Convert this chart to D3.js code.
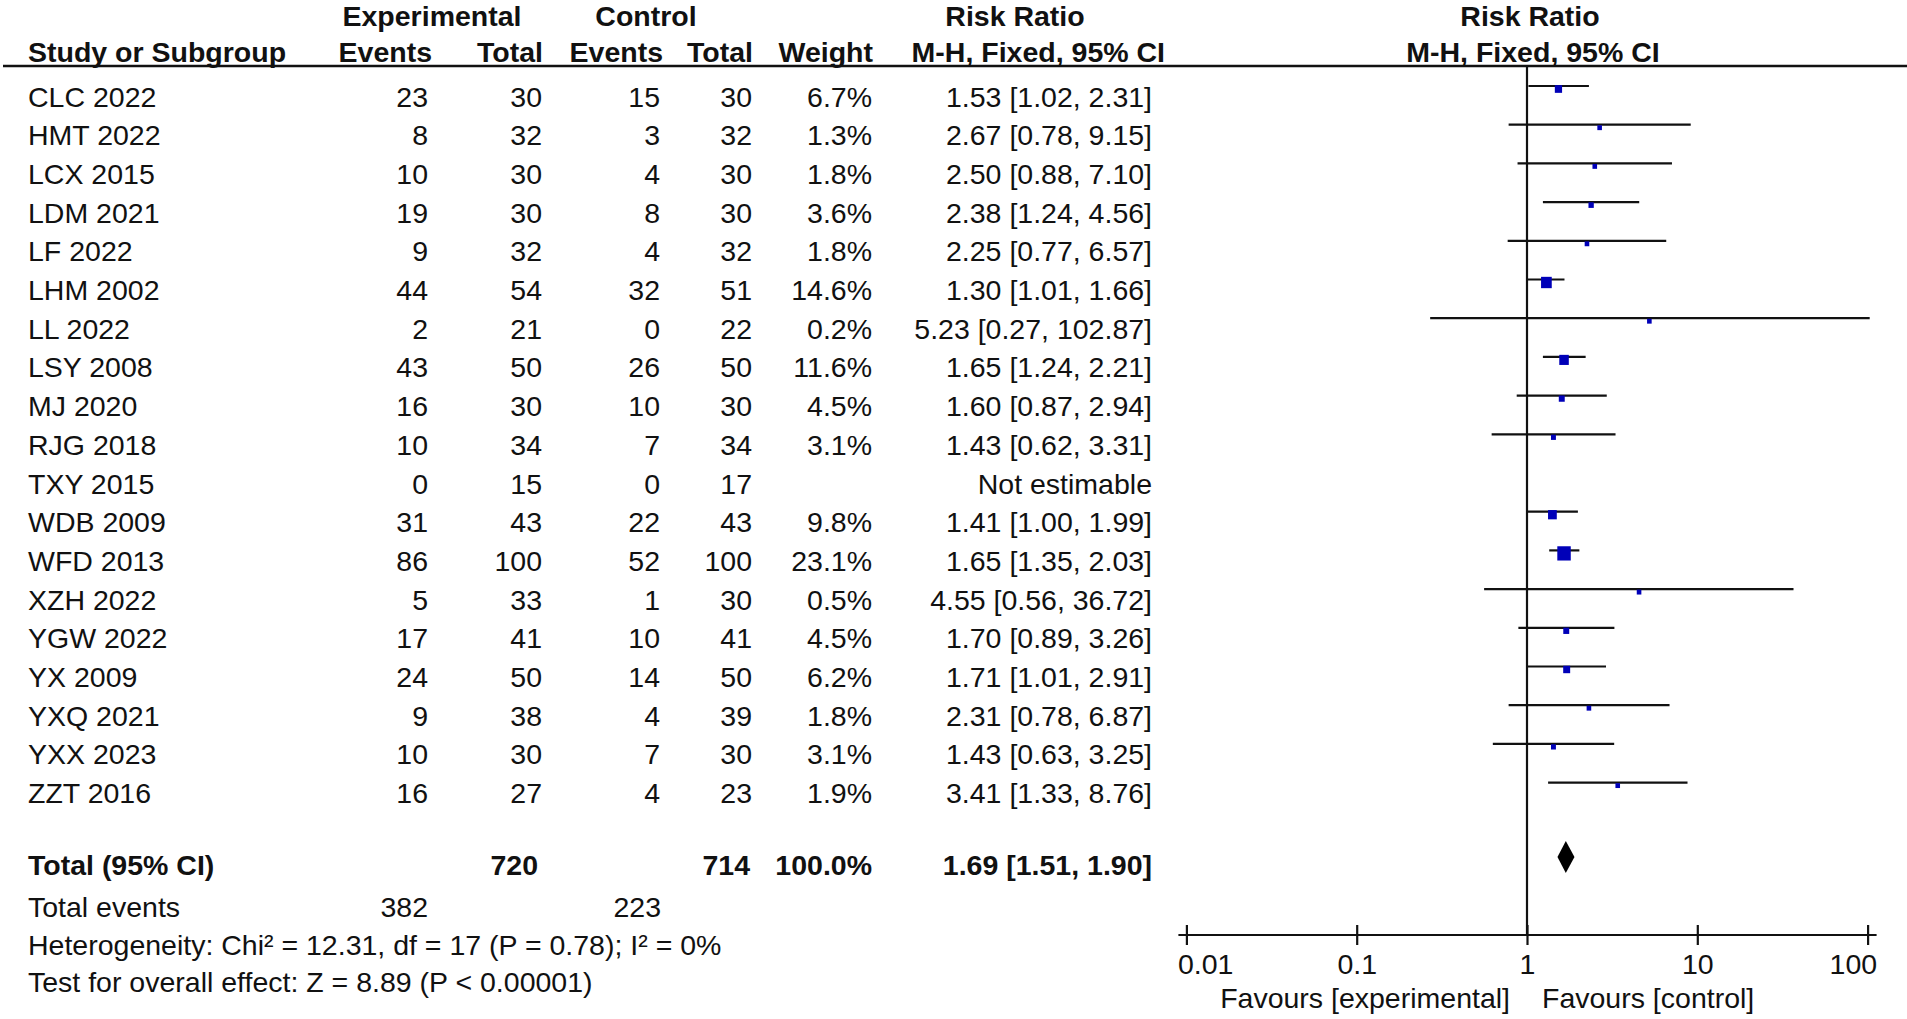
<!DOCTYPE html>
<html>
<head>
<meta charset="utf-8">
<script src="https://cdn.jsdelivr.net/npm/d3@7"></script>
<style>
  html, body { margin: 0; padding: 0; background: #fff; }
  svg { display: block; }
  text { font-family: "Liberation Sans", Arial, sans-serif; fill: #111; }
</style>
</head>
<body>
<svg id="chart" width="1907" height="1019"></svg>
<script>
// ---------------- DATA ----------------
const studies = ["CLC 2022","HMT 2022","LCX 2015","LDM 2021","LF 2022","LHM 2002","LL 2022","LSY 2008","MJ 2020","RJG 2018","TXY 2015","WDB 2009","WFD 2013","XZH 2022","YGW 2022","YX 2009","YXQ 2021","YXX 2023","ZZT 2016"];
const expEvents  = [23, 8, 10, 19, 9, 44, 2, 43, 16, 10, 0, 31, 86, 5, 17, 24, 9, 10, 16];
const expTotal   = [30, 32, 30, 30, 32, 54, 21, 50, 30, 34, 15, 43, 100, 33, 41, 50, 38, 30, 27];
const ctrlEvents = [15, 3, 4, 8, 4, 32, 0, 26, 10, 7, 0, 22, 52, 1, 10, 14, 4, 7, 4];
const ctrlTotal  = [30, 32, 30, 30, 32, 51, 22, 50, 30, 34, 17, 43, 100, 30, 41, 50, 39, 30, 23];
const weights    = [6.7, 1.3, 1.8, 3.6, 1.8, 14.6, 0.2, 11.6, 4.5, 3.1, null, 9.8, 23.1, 0.5, 4.5, 6.2, 1.8, 3.1, 1.9];
const rr         = [1.53, 2.67, 2.50, 2.38, 2.25, 1.30, 5.23, 1.65, 1.60, 1.43, null, 1.41, 1.65, 4.55, 1.70, 1.71, 2.31, 1.43, 3.41];
const ciLow      = [1.02, 0.78, 0.88, 1.24, 0.77, 1.01, 0.27, 1.24, 0.87, 0.62, null, 1.00, 1.35, 0.56, 0.89, 1.01, 0.78, 0.63, 1.33];
const ciHigh     = [2.31, 9.15, 7.10, 4.56, 6.57, 1.66, 102.87, 2.21, 2.94, 3.31, null, 1.99, 2.03, 36.72, 3.26, 2.91, 6.87, 3.25, 8.76];

const totalExp = 720, totalCtrl = 714, totalWeight = "100.0%";
const pooled = {rr: 1.69, lo: 1.51, hi: 1.90};
const totalEventsExp = 382, totalEventsCtrl = 223;
const heterogeneityText = "Heterogeneity: Chi² = 12.31, df = 17 (P = 0.78); I² = 0%";
const overallText = "Test for overall effect: Z = 8.89 (P < 0.00001)";
const tickValues = [0.01, 0.1, 1, 10, 100];
const tickLabels = ["0.01", "0.1", "1", "10", "100"];

// ---------------- LAYOUT ----------------
const svg = d3.select("#chart");
const FS = 28.5;
const fmt2 = d3.format(".2f");

const rowBase0 = 106.5, rowStep = 38.7;
const yRow = d3.scaleLinear().domain([0, 1]).range([rowBase0, rowBase0 + rowStep]);

const colX = { study: 28, expEv: 428, expTot: 542, ctrlEv: 660, ctrlTot: 752, weight: 872, ci: 1152 };
const hdrX = { expEv: 432, expTot: 543, ctrlEv: 663, ctrlTot: 753, weight: 873, ci: 1165 };

function txt(x, y, s, opts = {}) {
  return svg.append("text")
    .attr("x", x).attr("y", y)
    .attr("font-size", opts.size || FS)
    .attr("font-weight", opts.bold ? 700 : 400)
    .attr("text-anchor", opts.anchor || "start")
    .text(s);
}

// Header row 1
txt(432, 26, "Experimental", {bold: true, anchor: "middle"});
txt(646, 26, "Control", {bold: true, anchor: "middle"});
txt(1015, 26, "Risk Ratio", {bold: true, anchor: "middle"});
txt(1530, 26, "Risk Ratio", {bold: true, anchor: "middle"});

// Header row 2
const hY = 62;
txt(colX.study, hY, "Study or Subgroup", {bold: true});
txt(hdrX.expEv, hY, "Events", {bold: true, anchor: "end"});
txt(hdrX.expTot, hY, "Total", {bold: true, anchor: "end"});
txt(hdrX.ctrlEv, hY, "Events", {bold: true, anchor: "end"});
txt(hdrX.ctrlTot, hY, "Total", {bold: true, anchor: "end"});
txt(hdrX.weight, hY, "Weight", {bold: true, anchor: "end"});
txt(hdrX.ci, hY, "M-H, Fixed, 95% CI", {bold: true, anchor: "end"});
txt(1533, hY, "M-H, Fixed, 95% CI", {bold: true, anchor: "middle"});

// header rule
svg.append("line").attr("x1", 3).attr("x2", 1907).attr("y1", 66).attr("y2", 66)
  .attr("stroke", "#111").attr("stroke-width", 2.5);

// Study rows
studies.forEach((s, i) => {
  const y = yRow(i);
  txt(colX.study, y, s);
  txt(colX.expEv, y, expEvents[i], {anchor: "end"});
  txt(colX.expTot, y, expTotal[i], {anchor: "end"});
  txt(colX.ctrlEv, y, ctrlEvents[i], {anchor: "end"});
  txt(colX.ctrlTot, y, ctrlTotal[i], {anchor: "end"});
  if (weights[i] != null) txt(colX.weight, y, weights[i].toFixed(1) + "%", {anchor: "end"});
  if (rr[i] != null) txt(colX.ci, y, `${fmt2(rr[i])} [${fmt2(ciLow[i])}, ${fmt2(ciHigh[i])}]`, {anchor: "end"});
  else txt(colX.ci, y, "Not estimable", {anchor: "end"});
});

// Totals
const yTot = 875, yEv = 917, yHet = 955, yTest = 992;
txt(colX.study, yTot, "Total (95% CI)", {bold: true});
txt(538, yTot, totalExp, {bold: true, anchor: "end"});
txt(750, yTot, totalCtrl, {bold: true, anchor: "end"});
txt(colX.weight, yTot, totalWeight, {bold: true, anchor: "end"});
txt(colX.ci, yTot, `${fmt2(pooled.rr)} [${fmt2(pooled.lo)}, ${fmt2(pooled.hi)}]`, {bold: true, anchor: "end"});
txt(colX.study, yEv, "Total events");
txt(colX.expEv, yEv, totalEventsExp, {anchor: "end"});
txt(661, yEv, totalEventsCtrl, {anchor: "end"});
txt(colX.study, yHet, heterogeneityText);
txt(colX.study, yTest, overallText);

// ---------------- FOREST PLOT ----------------
const x = d3.scaleLog().domain([0.01, 100]).range([1186.4, 1867.6]);
const axisY = 935;
const ciOff = -20.5;

// null line
svg.append("line").attr("x1", x(1)).attr("x2", x(1)).attr("y1", 66).attr("y2", axisY)
  .attr("stroke", "#111").attr("stroke-width", 2.2);

const g = svg.append("g");
studies.forEach((s, i) => {
  if (rr[i] == null) return;
  const yl = yRow(i) + ciOff;
  g.append("line").attr("x1", x(ciLow[i])).attr("x2", x(ciHigh[i]))
    .attr("y1", yl).attr("y2", yl).attr("stroke", "#111").attr("stroke-width", 2.2);
  const sz = Math.max(4.6, 2.8 * Math.sqrt(weights[i]));
  const szH = sz * 1.06;
  g.append("rect")
    .attr("x", x(rr[i]) - sz / 2).attr("y", yl + 3 - szH / 2)
    .attr("width", sz).attr("height", szH)
    .attr("fill", "#0000b8");
});

// pooled diamond
const yd = yTot - 18;
svg.append("path")
  .attr("d", `M${x(pooled.lo)},${yd} L${x(pooled.rr)},${yd - 16} L${x(pooled.hi)},${yd} L${x(pooled.rr)},${yd + 16} Z`)
  .attr("fill", "#000");

// axis
const axis = d3.axisBottom(x).tickValues(tickValues)
  .tickFormat((d, i) => tickLabels[i]).tickSizeInner(10).tickSizeOuter(0).tickPadding(12);
const ag = svg.append("g").attr("transform", `translate(0,${axisY})`).call(axis);
ag.select(".domain").remove();
ag.insert("line", ":first-child")
  .attr("x1", x(0.01) - 8).attr("x2", x(100) + 9).attr("y1", 0).attr("y2", 0)
  .attr("stroke", "#111").attr("stroke-width", 2.2);
ag.selectAll(".tick line").attr("y1", -10).attr("y2", 10).attr("stroke", "#111").attr("stroke-width", 2.2);
ag.selectAll(".tick text")
  .attr("font-family", "Liberation Sans, Arial, sans-serif")
  .attr("font-size", FS).attr("fill", "#111").attr("dy", null).attr("y", 39)
  .attr("text-anchor", (d, i) => i === 0 ? "start" : (i === tickValues.length - 1 ? "end" : "middle"))
  .attr("dx", (d, i) => i === 0 ? -9 : (i === tickValues.length - 1 ? 9 : 0));

txt(x(1) - 17, 1008, "Favours [experimental]", {anchor: "end"});
txt(x(1) + 15, 1008, "Favours [control]");
</script>
</body>
</html>
